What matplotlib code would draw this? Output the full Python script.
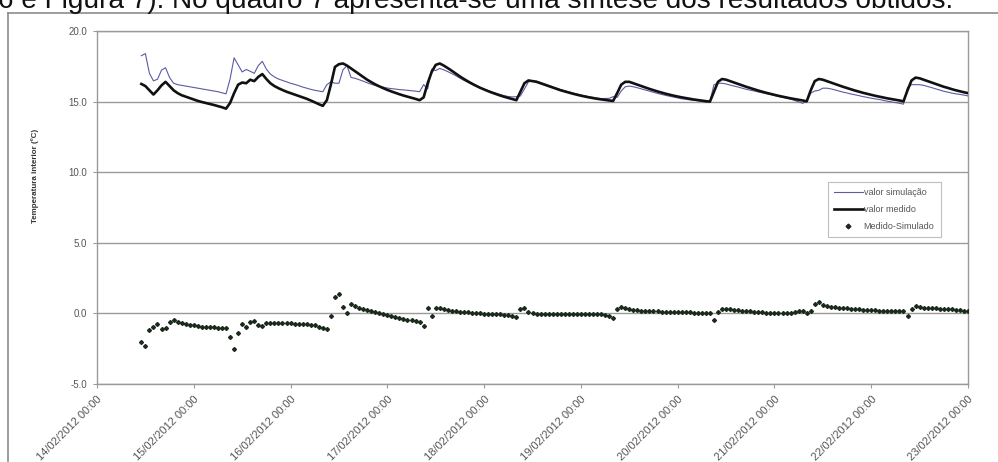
import matplotlib
matplotlib.use("Agg")
import matplotlib.pyplot as plt
from matplotlib.lines import Line2D
import numpy as np
import pandas as pd

plt.rcParams["font.family"] = ["Liberation Sans", "DejaVu Sans"]

# Hourly readings, first sample at 14/02/2012 11:00
inicio = "2012-02-14 11:00"

medido = [
    16.25, 16.10, 15.80, 15.50, 15.80, 16.15, 16.40, 16.10, 15.80, 15.60, 15.45,
    15.35, 15.25, 15.15, 15.05, 14.97, 14.90, 14.83, 14.76, 14.68, 14.60, 14.50,
    14.90, 15.60, 16.20, 16.35, 16.30, 16.55, 16.45, 16.75, 16.95, 16.60, 16.30, 16.10,
    15.95, 15.82, 15.70, 15.60, 15.50, 15.40, 15.30, 15.20, 15.08, 14.95, 14.82, 14.70,
    15.10, 16.20, 17.45, 17.65, 17.70, 17.55, 17.35, 17.15, 16.95, 16.75, 16.55, 16.38,
    16.22, 16.08, 15.95, 15.83, 15.72, 15.62, 15.52, 15.43, 15.35, 15.27, 15.19, 15.10,
    15.30, 16.30, 17.10, 17.60, 17.70, 17.55, 17.37, 17.18, 16.98, 16.78, 16.60, 16.43,
    16.27, 16.12, 15.98, 15.86, 15.74, 15.63, 15.53, 15.43, 15.34, 15.26, 15.18, 15.10,
    15.70, 16.30, 16.50, 16.45, 16.40, 16.30, 16.20, 16.10, 16.00, 15.90, 15.80, 15.72,
    15.64, 15.56, 15.49, 15.42, 15.36, 15.30, 15.25, 15.20, 15.16, 15.12, 15.08, 15.05,
    15.60, 16.20, 16.40, 16.40, 16.30, 16.20, 16.10, 16.00, 15.90, 15.81, 15.72, 15.64,
    15.56, 15.49, 15.42, 15.36, 15.30, 15.25, 15.20, 15.15, 15.11, 15.07, 15.03, 15.00,
    15.70, 16.40, 16.60, 16.55, 16.45, 16.35, 16.25, 16.15, 16.05, 15.96, 15.87, 15.78,
    15.70, 15.62, 15.55, 15.48, 15.41, 15.35, 15.29, 15.23, 15.18, 15.13, 15.08, 15.02,
    15.80, 16.45, 16.60, 16.55, 16.45, 16.35, 16.25, 16.15, 16.05, 15.96, 15.87, 15.78,
    15.70, 15.62, 15.55, 15.48, 15.41, 15.35, 15.29, 15.23, 15.18, 15.13, 15.08, 15.02,
    15.80, 16.50, 16.70, 16.65, 16.55, 16.45, 16.35, 16.25, 16.15, 16.05, 15.97, 15.88,
    15.80, 15.73, 15.66, 15.60,
]

simulado = [
    18.25, 18.40, 17.00, 16.47, 16.58, 17.23, 17.40, 16.70, 16.30, 16.20, 16.15,
    16.10, 16.05, 16.00, 15.95, 15.90, 15.85, 15.80, 15.75, 15.70, 15.62, 15.55,
    16.60, 18.10, 17.60, 17.10, 17.27, 17.15, 17.00, 17.55, 17.85, 17.30, 16.95, 16.75,
    16.60, 16.50, 16.40, 16.30, 16.22, 16.13, 16.03, 15.95, 15.87, 15.80, 15.75, 15.70,
    16.20, 16.40, 16.30, 16.30, 17.25, 17.55, 16.71, 16.65, 16.55, 16.45, 16.33, 16.23,
    16.14, 16.08, 16.02, 15.96, 15.92, 15.89, 15.85, 15.83, 15.80, 15.77, 15.74, 15.70,
    16.20, 15.90, 17.30, 17.20, 17.35, 17.25, 17.12, 16.98, 16.83, 16.66, 16.50, 16.36,
    16.22, 16.10, 15.98, 15.88, 15.78, 15.68, 15.59, 15.50, 15.42, 15.36, 15.33, 15.35,
    15.40, 15.90, 16.40, 16.45, 16.45, 16.35, 16.25, 16.15, 16.05, 15.95, 15.85, 15.77,
    15.69, 15.61, 15.54, 15.47, 15.41, 15.35, 15.30, 15.25, 15.21, 15.22, 15.23, 15.35,
    15.30, 15.75, 16.05, 16.10, 16.05, 15.98, 15.90, 15.82, 15.74, 15.66, 15.58, 15.51,
    15.44, 15.38, 15.32, 15.26, 15.20, 15.17, 15.12, 15.09, 15.06, 15.02, 14.98, 15.00,
    16.20, 16.30, 16.30, 16.25, 16.17, 16.10, 16.03, 15.95, 15.87, 15.81, 15.75, 15.68,
    15.62, 15.56, 15.50, 15.43, 15.36, 15.30, 15.24, 15.18, 15.08, 14.98, 14.88, 15.02,
    15.60, 15.75, 15.80, 15.95, 15.95, 15.90, 15.83, 15.75, 15.67, 15.61, 15.54, 15.48,
    15.42, 15.35, 15.30, 15.24, 15.19, 15.15, 15.09, 15.03, 14.98, 14.93, 14.88, 14.82,
    16.00, 16.20, 16.20, 16.20, 16.15, 16.07, 15.99, 15.90, 15.82, 15.73, 15.67, 15.60,
    15.55, 15.51, 15.46, 15.40,
]

dias = pd.date_range("2012-02-14", "2012-02-23", freq="D")
rotulos_x = [
    "14/02/2012 00:00", "15/02/2012 00:00", "16/02/2012 00:00", "17/02/2012 00:00",
    "18/02/2012 00:00", "19/02/2012 00:00", "20/02/2012 00:00", "21/02/2012 00:00",
    "22/02/2012 00:00", "23/02/2012 00:00",
]
valores_y = [-5.0, 0.0, 5.0, 10.0, 15.0, 20.0]
nomes = ["valor simulação", "valor medido", "Medido-Simulado"]

tempo = pd.date_range(inicio, periods=len(medido), freq="h")
diferenca = np.array(medido) - np.array(simulado)

W, H = 998, 462
fig = plt.figure(figsize=(W / 100, H / 100), dpi=100)

# running text of the page above the chart
txt = fig.text(-2 / W, 1 - 8.5 / H,
               "6 e Figura 7). No quadro 7 apresenta-se uma síntese dos resultados obtidos.",
               fontsize=20, va="baseline", ha="left", color="#111111")
fig.canvas.draw()
bb = txt.get_window_extent()
txt.set_fontsize(20 * 952 / bb.width)

# outer frame of the figure box
frame_col = "#8c8c8c"
fig.add_artist(Line2D([8 / W, 1.0], [1 - 13 / H, 1 - 13 / H], transform=fig.transFigure,
                      color=frame_col, lw=1.2))
fig.add_artist(Line2D([8 / W, 8 / W], [0.0, 1 - 13 / H], transform=fig.transFigure,
                      color=frame_col, lw=1.2))

ax = fig.add_axes([97 / W, 1 - 384 / H, (968 - 97) / W, (384 - 31) / H])

ax.plot(tempo, simulado, color="#5a5aa6", lw=0.8, label=nomes[0], zorder=3)
ax.plot(tempo, medido, color="#111111", lw=1.9, label=nomes[1], zorder=4)
ax.plot(tempo, diferenca, linestyle="none", marker="D", markersize=2.0,
        color="#1c2a1c", label=nomes[2], zorder=5)

ax.set_xlim(dias[0], dias[-1])
ax.set_ylim(valores_y[0], valores_y[-1])
ax.set_xticks(dias)
ax.set_xticklabels(rotulos_x, rotation=45, ha="right", rotation_mode="anchor",
                   fontsize=8, color="#555555")
ax.set_yticks(valores_y)
ax.set_yticklabels([f"{v:.1f}" for v in valores_y], fontsize=7, color="#555555")
ax.tick_params(axis="both", direction="out", length=3, width=0.8, color="#999999", pad=4)
ax.yaxis.grid(True, color="#9a9a9a", lw=1.0)
ax.set_axisbelow(True)
for s in ax.spines.values():
    s.set_color("#9a9a9a")
    s.set_linewidth(1.0)

# axis title placed beside the upper half of the value axis
fig.text(35 / W, 1 - 176 / H, "Temperatura interior (ºC)", rotation=90,
         fontsize=5.8, fontweight="bold", color="#333333", ha="center", va="center")

leg = ax.legend(loc="upper left", bbox_to_anchor=(823 / W, 1 - 177 / H),
                bbox_transform=fig.transFigure, fontsize=6.5, frameon=True,
                fancybox=False, edgecolor="#b0b0b0", handlelength=3.2,
                handletextpad=0.1, labelspacing=0.9, borderpad=0.7, markerscale=1.2)
leg.get_frame().set_linewidth(0.8)
for t in leg.get_texts():
    t.set_color("#555555")

fig.savefig("out.png", dpi=100)
